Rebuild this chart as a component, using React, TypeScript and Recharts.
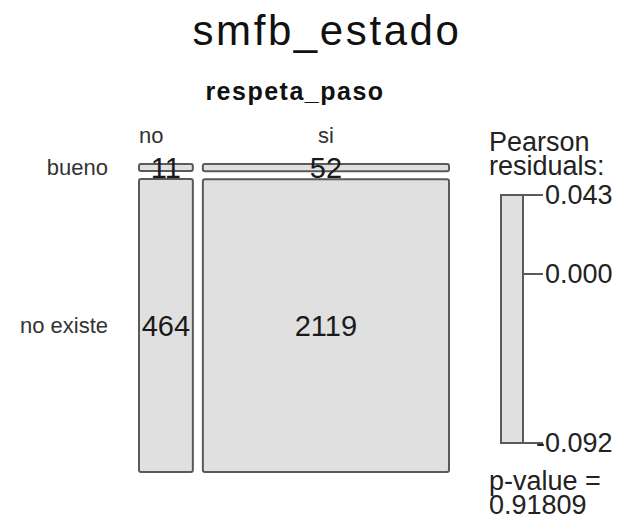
import React from "react";
import { ComposedChart, XAxis, YAxis, ReferenceArea, Scatter, LabelList } from "recharts";

const colNames = ["no", "si"];
const rowNames = ["bueno", "no existe"];
// counts per column (respeta_paso), rows = smfb_estado
const countsNo = [11, 464];
const countsSi = [52, 2119];
const residualTicks = [0.043, 0.0, -0.092];
const residualRange = [-0.092, 0.043];
const pValue = "0.91809";

const FONT = "'Liberation Sans', Arial, Helvetica, sans-serif";
const BOX_FILL = "#e0e0e0";
const BOX_STROKE = "#5a5a5a";
const X_GAP = 10 / 310;
const Y_GAP = 8 / 308;

const counts = [countsNo, countsSi];
const colTotals = counts.map((c) => c.reduce((a, b) => a + b, 0));
const grand = colTotals.reduce((a, b) => a + b, 0);

type Cell = { x1: number; x2: number; y1: number; y2: number; cx: number; cy: number; n: number };
const cells: Cell[] = [];
const colStarts: number[] = [];
const colCenters: number[] = [];
let xPos = 0;
counts.forEach((col, i) => {
  const w = ((1 - X_GAP) * colTotals[i]) / grand;
  colStarts.push(xPos);
  colCenters.push(xPos + w / 2);
  let yTop = 1;
  col.forEach((n) => {
    const h = ((1 - Y_GAP) * n) / colTotals[i];
    cells.push({ x1: xPos, x2: xPos + w, y1: yTop - h, y2: yTop, cx: xPos + w / 2, cy: yTop - h / 2, n });
    yTop -= h + Y_GAP;
  });
  xPos += w + X_GAP;
});

// row label positions taken from the first column
const rowCenters = [cells[0].cy, cells[1].cy];
// first column label sits at the column's left edge, the second is centred
const colTicks = [colStarts[0], colCenters[1]];
const colAnchors = ["start", "middle"];

const legendData = residualTicks.map((v) => ({ lx: 0.5, ly: v }));

const ColTick = (props: any) => {
  const { x, y, index } = props;
  return (
    <text x={x} y={y} textAnchor={colAnchors[index]} fontSize={22} fontFamily={FONT} fill="#333">
      {colNames[index]}
    </text>
  );
};

const ResidualTick = (props: any) => {
  const { x, y, payload } = props;
  const v = payload.value as number;
  return (
    <text
      x={x}
      y={y}
      dx={v < 0 ? -9 : 0}
      dy={9}
      textAnchor="start"
      fontSize={27}
      fontFamily={FONT}
      fill="#222"
    >
      {v.toFixed(3)}
    </text>
  );
};

const NoShape = () => <g />;

export default function App() {
  return (
    <div style={{ position: "absolute", left: 0, top: 0, width: 619, height: 520, background: "#fff" }}>
      <div style={{ position: "absolute", left: 0, top: 0 }}>
        <ComposedChart width={619} height={520} data={cells} margin={{ top: 0, right: 170, bottom: 48, left: 0 }}>
          <XAxis
            xAxisId="m"
            dataKey="cx"
            type="number"
            orientation="top"
            domain={[0, 1]}
            height={164}
            ticks={colTicks}
            tickLine={false}
            axisLine={false}
            tickSize={21}
            tickMargin={0}
            interval={0}
            tick={<ColTick />}
          />
          <YAxis
            yAxisId="m"
            dataKey="cy"
            type="number"
            domain={[0, 1]}
            width={139}
            ticks={rowCenters}
            tickFormatter={(v: number) => rowNames[rowCenters.indexOf(v)] ?? ""}
            tickLine={false}
            axisLine={false}
            tickSize={26}
            tickMargin={5}
            interval={0}
            tick={{ fontSize: 22, fontFamily: FONT, fill: "#333" }}
          />
          {cells.map((c, i) => (
            <ReferenceArea
              key={i}
              xAxisId="m"
              yAxisId="m"
              x1={c.x1}
              x2={c.x2}
              y1={c.y1}
              y2={c.y2}
              fill={BOX_FILL}
              fillOpacity={1}
              stroke={BOX_STROKE}
              strokeWidth={2}
              radius={2}
              ifOverflow="visible"
            />
          ))}
          <Scatter xAxisId="m" yAxisId="m" dataKey="cy" shape={<NoShape />} isAnimationActive={false}>
            <LabelList
              dataKey="n"
              position="center"
              fontSize={29}
              fontFamily={FONT}
              fill="#1a1a1a"
            />
          </Scatter>
        </ComposedChart>
      </div>

      <div style={{ position: "absolute", left: 490, top: 0 }}>
        <ComposedChart width={129} height={520} data={legendData} margin={{ top: 195, right: 0, bottom: 77, left: 11 }}>
          <XAxis xAxisId="l" dataKey="lx" type="number" domain={[0, 1]} hide />
          <YAxis
            yAxisId="l"
            dataKey="ly"
            type="number"
            orientation="right"
            domain={residualRange}
            ticks={residualTicks}
            width={96}
            axisLine={false}
            tickLine={{ stroke: BOX_STROKE, strokeWidth: 2 }}
            tickSize={20}
            tickMargin={2}
            interval={0}
            tick={<ResidualTick />}
          />
          <ReferenceArea
            xAxisId="l"
            yAxisId="l"
            x1={0}
            x2={1}
            y1={residualRange[0]}
            y2={residualRange[1]}
            fill={BOX_FILL}
            fillOpacity={1}
            stroke={BOX_STROKE}
            strokeWidth={2}
            ifOverflow="visible"
          />
          <Scatter xAxisId="l" yAxisId="l" dataKey="ly" shape={<NoShape />} isAnimationActive={false} />
        </ComposedChart>
      </div>

      <svg width={619} height={520} style={{ position: "absolute", left: 0, top: 0, pointerEvents: "none" }}>
        <text x={327} y={45} textAnchor="middle" fontSize={42} letterSpacing={2.6} fontFamily={FONT} fill="#111">
          smfb_estado
        </text>
        <text x={295} y={100} textAnchor="middle" fontSize={25} letterSpacing={1.5} fontWeight="bold" fontFamily={FONT} fill="#111">
          respeta_paso
        </text>
        <text x={489} y={151} fontSize={27} fontFamily={FONT} fill="#222">
          Pearson
        </text>
        <text x={489} y={175} fontSize={27} fontFamily={FONT} fill="#222">
          residuals:
        </text>
        <text x={489} y={490} fontSize={27} fontFamily={FONT} fill="#222">
          p-value =
        </text>
        <text x={489} y={514} fontSize={27} fontFamily={FONT} fill="#222">
          {pValue}
        </text>
      </svg>
    </div>
  );
}
